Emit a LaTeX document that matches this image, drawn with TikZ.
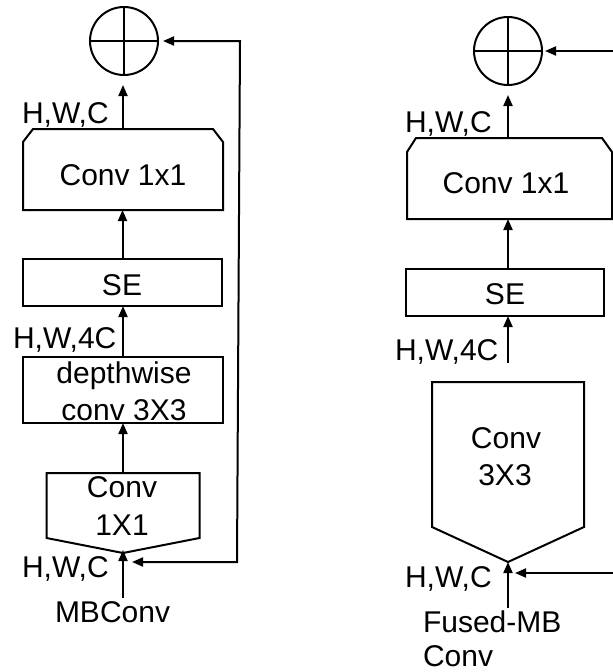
\documentclass[tikz,border=0pt]{standalone}
\usepackage{fontspec}
\setmainfont{Liberation Sans}
\usetikzlibrary{arrows.meta}
\begin{document}
\begin{tikzpicture}[x=1pt,y=-1pt,line width=2pt,line join=miter,
  txt/.style={font=\fontsize{30}{36}\selectfont,inner sep=0pt,outer sep=0pt},
  circ/.style={draw,circle,minimum size=68pt,inner sep=0pt,outer sep=0pt},
  hbox/.style={draw=none,rectangle,inner sep=0pt,outer sep=0pt},
  rbox/.style={draw,rectangle,inner sep=0pt,outer sep=0pt},
  tip/.style={-{Triangle[length=11pt,width=9pt]}},
  tips/.style={{Triangle[length=11pt,width=9pt]}-{Triangle[length=11pt,width=9pt]}}]
\useasboundingbox[fill=white] (0,0) rectangle (613,672);

% ---------------- left: MBConv ----------------
\node[circ] (sum1) at (124,41) {};
\draw (sum1.north) -- (sum1.south) (sum1.west) -- (sum1.east);

\node[hbox,minimum width=200pt,minimum height=81pt,anchor=north west] (c1) at (23,129) {};
\draw ([yshift=-13pt]c1.north west) -- ([xshift=10pt]c1.north west) -- ([xshift=-10pt]c1.north east)
  -- ([yshift=-13pt]c1.north east) -- (c1.south east) -- (c1.south west) -- cycle;
\node[txt,anchor=base] (c1t) at (123,185) {Conv 1x1};

\node[rbox,minimum width=199pt,minimum height=47pt,anchor=north west] (se1) at (23,259) {};
\node[txt,anchor=base] (se1t) at (122,295) {SE};

\node[rbox,minimum width=200pt,minimum height=66pt,anchor=north west] (dw1) at (23,357) {};
\node[txt,anchor=base] (dw1a) at (124,383) {depthwise};
\node[txt,anchor=base] (dw1b) at (124,420) {conv 3X3};

\node[hbox,minimum width=153pt,minimum height=80pt,anchor=north west] (cb1) at (46.5,473) {};
\draw (cb1.north west) -- (cb1.north east) -- ([yshift=15pt]cb1.south east) -- (cb1.south)
  -- ([yshift=15pt]cb1.south west) -- cycle;
\node[txt,anchor=base] (cb1a) at (122,497) {Conv};
\node[txt,anchor=base] (cb1b) at (122,535) {1X1};

\coordinate (in1) at (123,598);
\coordinate (fb1t) at (240,41);
\coordinate (fb1b) at (237,562);

\node[txt,anchor=base west] (l1a) at (22,123) {H,W,C};
\node[txt,anchor=base west] (l1b) at (13,348) {H,W,4C};
\node[txt,anchor=base west] (l1c) at (22,577) {H,W,C};
\node[txt,anchor=base west] (n1) at (55,622) {MBConv};

\draw[tip,shorten >=10pt] (c1.north) -- (c1.north |- sum1.south);
\draw[tip] (se1.north) -- (se1.north |- c1.south);
\draw[tip] (dw1.north) -- (dw1.north |- se1.south);
\draw[tip] (cb1.north) -- (cb1.north |- dw1.south);
\draw[tip,shorten >=-3pt] (in1) -- (in1 |- cb1.south);
\draw[tips] ([xshift=5pt]sum1.east) -- (fb1t) -- (fb1b) -- ([xshift=9pt]in1 |- fb1b);

% ---------------- right: Fused-MBConv ----------------
\node[circ] (sum2) at (508,51) {};
\draw (sum2.north) -- (sum2.south) (sum2.west) -- (sum2.east);

\node[hbox,minimum width=205pt,minimum height=81pt,anchor=north west] (c2) at (407,138) {};
\draw ([yshift=-14pt]c2.north west) -- ([xshift=9pt]c2.north west) -- ([xshift=-10pt]c2.north east)
  -- ([yshift=-14pt]c2.north east) -- (c2.south east) -- (c2.south west) -- cycle;
\node[txt,anchor=base] (c2t) at (506,193) {Conv 1x1};

\node[rbox,minimum width=198pt,minimum height=47pt,anchor=north west] (se2) at (406,269) {};
\node[txt,anchor=base] (se2t) at (505,304) {SE};

\node[hbox,minimum width=152pt,minimum height=180pt,anchor=north west] (cb2) at (432,382) {};
\draw (cb2.north west) -- (cb2.north east) -- ([yshift=35pt]cb2.south east) -- (cb2.south)
  -- ([yshift=35pt]cb2.south west) -- cycle;
\node[txt,anchor=base] (cb2a) at (506,448) {Conv};
\node[txt,anchor=base] (cb2b) at (505,485) {3X3};

\coordinate (a2) at (508,363);
\coordinate (in2) at (508,608);
\coordinate (r2t) at (613,51);
\coordinate (r2b) at (613,573);

\node[txt,anchor=base west] (l2a) at (405,132) {H,W,C};
\node[txt,anchor=base west] (l2b) at (395,360) {H,W,4C};
\node[txt,anchor=base west] (l2c) at (405,587) {H,W,C};
\node[txt,anchor=base west] (n2a) at (423,632) {Fused-MB};
\node[txt,anchor=base west] (n2b) at (423,666) {Conv};

\draw[tip,shorten >=10pt] (sum2.south |- c2.north) -- (sum2.south);
\draw[tip] (sum2 |- se2.north) -- (sum2 |- c2.south);
\draw[tip] (a2) -- (a2 |- se2.south);
\draw[tip] (in2) -- (cb2.south);
\draw[tip,shorten >=3pt] (r2t) -- (sum2.east);
\draw[tip] (r2b) -- ([xshift=7pt]in2 |- r2b);
\end{tikzpicture}
\end{document}
